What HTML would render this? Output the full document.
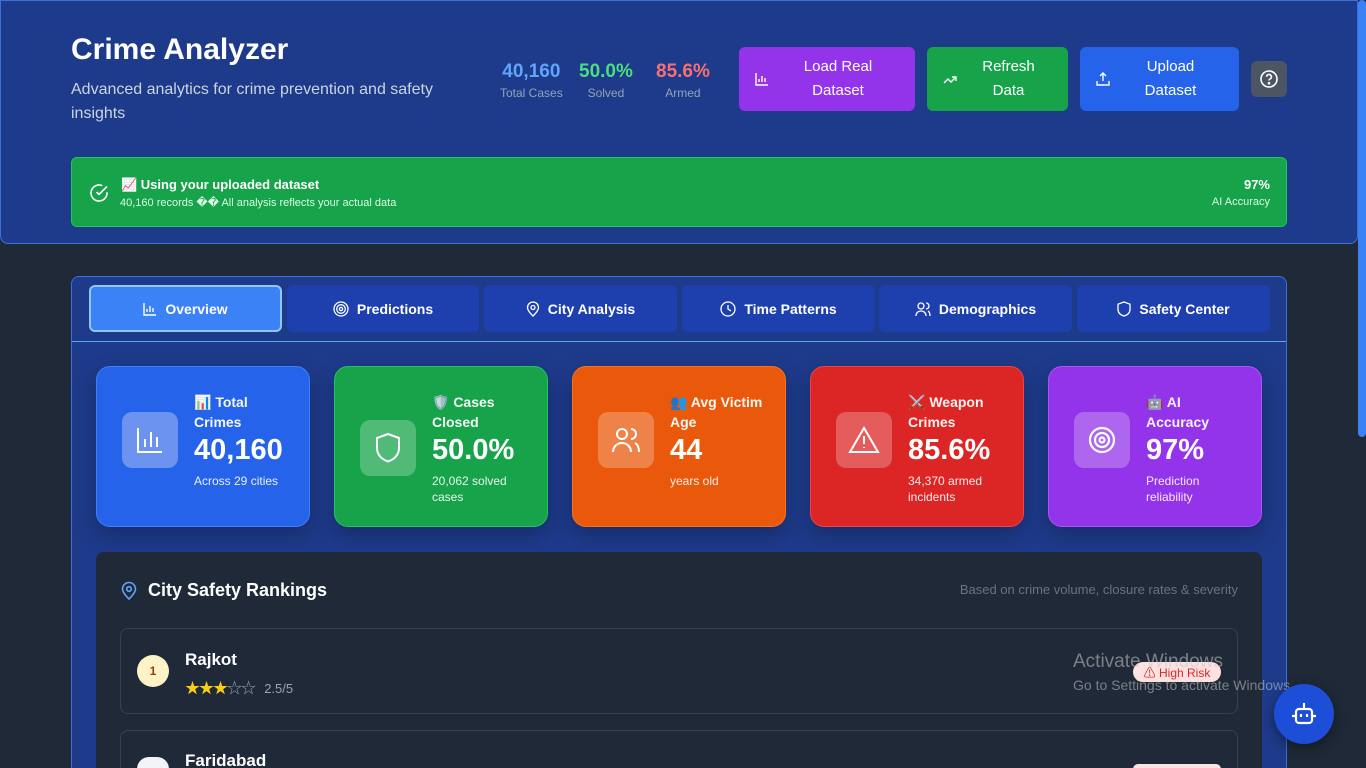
<!DOCTYPE html>
<html><head><meta charset="utf-8"><style>
*{box-sizing:border-box;margin:0;padding:0}
html{width:1366px;height:768px;overflow:hidden}
body{width:1366px;height:768px;overflow:hidden;background:#1f2937;font-family:"Liberation Sans","Noto Sans CJK SC",sans-serif;color:#fff;position:relative}
.abs{position:absolute}
.header{left:0;top:0;width:1358px;height:244px;background:#1e3a8a;border:1px solid #3b6fe0;border-radius:0 0 8px 8px}
.title{left:71px;top:33px;font-size:30px;font-weight:bold}
.sub{left:71px;top:78px;width:380px;font-size:16px;line-height:24px;color:#cbd5e1}
.stat{top:61px;text-align:center}
.stat b{display:block;font-size:19px}
.stat span{display:block;font-size:12px;color:#94a3b8;margin-top:3px}
.btn{top:47px;height:64px;border-radius:6px;font-size:15px;line-height:24px;display:flex;align-items:center;justify-content:center;text-align:center}
.btn svg{position:absolute;left:16px;top:25px}
.banner{left:71px;top:157px;width:1216px;height:70px;background:#16a34a;border:1px solid #22c55e;border-radius:6px}
.panel{left:71px;top:276px;width:1216px;height:492px;background:#1e3a8a;border:1px solid #3b6fe0;border-bottom:none;border-radius:8px 8px 0 0}
.tab{top:285px;height:47px;background:#1e40af;border-radius:6px;display:flex;align-items:center;justify-content:center;font-size:14px;font-weight:bold;gap:8px}
.tab.active{background:#3b82f6;border:2px solid #93c5fd}
.card{top:366px;width:214px;height:161px;border-radius:14px;box-shadow:0 8px 20px rgba(0,0,0,.25)}
.card .ic{position:absolute;left:25px;top:45px;width:56px;height:56px;border-radius:10px;background:rgba(255,255,255,.25);display:flex;align-items:center;justify-content:center}
.card .lab{position:absolute;left:97px;top:25px;width:100px;font-size:14px;line-height:20px;font-weight:bold;opacity:.95}
.card .val{position:absolute;left:97px;top:67px;font-size:29px;font-weight:bold}
.card .note{position:absolute;left:97px;top:106px;width:100px;font-size:12px;line-height:16px;opacity:.9}
.rank{left:96px;top:552px;width:1166px;height:216px;background:#1f2937;border-radius:8px 8px 0 0}
.row{left:120px;width:1118px;height:86px;border:1px solid #374151;border-radius:8px}
</style></head><body>
<div class="abs header"></div>
<div class="abs title">Crime Analyzer</div>
<div class="abs sub">Advanced analytics for crime prevention and safety insights</div>
<div class="abs stat" style="left:500px"><b style="color:#60a5fa">40,160</b><span>Total Cases</span></div>
<div class="abs stat" style="left:579px"><b style="color:#4ade80">50.0%</b><span>Solved</span></div>
<div class="abs stat" style="left:656px"><b style="color:#f87171">85.6%</b><span>Armed</span></div>
<div class="abs btn" style="left:739px;width:176px;background:#9333ea;padding-left:22px"><svg width="14" height="14" viewBox="0 0 14 14" fill="none" stroke="#fff" stroke-width="1.4"><path d="M1 1v12h12M4 10V7M7 10V4M10 10V6"/></svg>Load Real<br>Dataset</div>
<div class="abs btn" style="left:927px;width:141px;background:#16a34a;padding-left:22px"><svg width="14" height="14" viewBox="0 0 14 14" fill="none" stroke="#fff" stroke-width="1.4"><path d="M1 11l4-4 3 3 5-5M9 5h4v4"/></svg>Refresh<br>Data</div>
<div class="abs btn" style="left:1080px;width:159px;background:#2563eb;padding-left:22px"><svg width="14" height="14" viewBox="0 0 14 14" fill="none" stroke="#fff" stroke-width="1.4"><path d="M7 9V1M4 4l3-3 3 3M1 9v4h12V9"/></svg>Upload<br>Dataset</div>
<div class="abs" style="left:1251px;top:61px;width:36px;height:36px;border-radius:6px;background:#4b5563;display:flex;align-items:center;justify-content:center"><svg width="20" height="20" viewBox="0 0 20 20" fill="none" stroke="#fff" stroke-width="1.6"><circle cx="10" cy="10" r="8"/><path d="M7.6 7.8a2.4 2.4 0 1 1 3.2 2.3c-.6.3-.8.7-.8 1.4"/><circle cx="10" cy="14.2" r=".5" fill="#fff"/></svg></div>
<div class="abs banner">
<svg class="abs" style="left:17px;top:25px" width="20" height="20" viewBox="0 0 20 20" fill="none" stroke="#fff" stroke-width="1.6"><path d="M18 9.2V10a8 8 0 1 1-4.7-7.3"/><path d="M18 3.5 10 11.5l-2.4-2.4"/></svg>
<div class="abs" style="left:49px;top:19px;font-size:13px;font-weight:bold">📈 Using your uploaded dataset</div>
<div class="abs" style="left:48px;top:38px;font-size:11px;color:#dcfce7">40,160 records �� All analysis reflects your actual data</div>
<div class="abs" style="right:16px;top:19px;font-size:13px;font-weight:bold;text-align:right">97%</div>
<div class="abs" style="right:16px;top:38px;font-size:11px;color:#dcfce7">AI Accuracy</div>
</div>
<div class="abs panel"></div>
<div class="abs tab active" style="left:89px;width:193px"><svg width="14" height="14" viewBox="0 0 14 14" fill="none" stroke="#fff" stroke-width="1.4"><path d="M1 1v12h12M4 10V7M7 10V4M10 10V6"/></svg>Overview</div>
<div class="abs tab" style="left:287px;width:192px"><svg width="16" height="16" viewBox="0 0 16 16" fill="none" stroke="#fff" stroke-width="1.3"><circle cx="8" cy="8" r="7"/><circle cx="8" cy="8" r="4.3"/><circle cx="8" cy="8" r="1.6"/></svg>Predictions</div>
<div class="abs tab" style="left:484px;width:193px"><svg width="14" height="16" viewBox="0 0 14 16" fill="none" stroke="#fff" stroke-width="1.3"><path d="M7 15s5.5-5 5.5-8.5a5.5 5.5 0 0 0-11 0C1.5 10 7 15 7 15z"/><circle cx="7" cy="6.5" r="2"/></svg>City Analysis</div>
<div class="abs tab" style="left:682px;width:193px"><svg width="16" height="16" viewBox="0 0 16 16" fill="none" stroke="#fff" stroke-width="1.3"><circle cx="8" cy="8" r="7"/><path d="M8 4v4l3 2"/></svg>Time Patterns</div>
<div class="abs tab" style="left:879px;width:193px"><svg width="16" height="16" viewBox="0 0 16 16" fill="none" stroke="#fff" stroke-width="1.3"><circle cx="6" cy="5" r="3"/><path d="M1 15c0-3 2-5 5-5s5 2 5 5M11 2a3 3 0 0 1 0 6M13 10c1.5.8 2 2.5 2 5"/></svg>Demographics</div>
<div class="abs tab" style="left:1077px;width:193px"><svg width="14" height="16" viewBox="0 0 14 16" fill="none" stroke="#fff" stroke-width="1.3"><path d="M7 1l6 2.2v5c0 3.5-2.6 5.8-6 6.8-3.4-1-6-3.3-6-6.8v-5z"/></svg>Safety Center</div>
<div class="abs" style="left:72px;top:341px;width:1214px;height:1px;background:#60a5fa"></div>

<div class="abs card" style="left:96px;background:#2563eb;border:1px solid #3b82f6"><div class="ic" style="background:#6b93ef"><svg width="30" height="30" viewBox="0 0 30 30" fill="none" stroke="#fff" stroke-width="2"><path d="M3 3v24h24M10 22v-8M16 22V7M22 22V12"/></svg></div><div class="lab">📊 Total Crimes</div><div class="val">40,160</div><div class="note">Across 29 cities</div></div>
<div class="abs card" style="left:334px;background:#16a34a;border:1px solid #22c55e"><div class="ic" style="top:53px"><svg width="28" height="32" viewBox="0 0 28 32" fill="none" stroke="#fff" stroke-width="2"><path d="M14 2l11 4v10c0 7-5 11.5-11 13.5C8 27.5 3 23 3 16V6z"/></svg></div><div class="lab">🛡️ Cases Closed</div><div class="val">50.0%</div><div class="note">20,062 solved cases</div></div>
<div class="abs card" style="left:572px;background:#ea580c;border:1px solid #f97316"><div class="ic"><svg width="30" height="30" viewBox="0 0 30 30" fill="none" stroke="#fff" stroke-width="2"><circle cx="11" cy="9" r="5"/><path d="M2 27c0-5 4-9 9-9s9 4 9 9M20 4a5 5 0 0 1 0 10M24 18c3 1.5 4 5 4 9"/></svg></div><div class="lab">👥 Avg Victim Age</div><div class="val">44</div><div class="note">years old</div></div>
<div class="abs card" style="left:810px;background:#dc2626;border:1px solid #ef4444"><div class="ic"><svg width="32" height="30" viewBox="0 0 32 30" fill="none" stroke="#fff" stroke-width="2"><path d="M16 3L2 27h28z"/><path d="M16 11v8M16 22v1"/></svg></div><div class="lab">⚔️ Weapon Crimes</div><div class="val">85.6%</div><div class="note">34,370 armed incidents</div></div>
<div class="abs card" style="left:1048px;background:#9333ea;border:1px solid #a855f7"><div class="ic"><svg width="30" height="30" viewBox="0 0 30 30" fill="none" stroke="#fff" stroke-width="2.2"><circle cx="15" cy="15" r="12"/><circle cx="15" cy="15" r="7"/><circle cx="15" cy="15" r="2.5"/></svg></div><div class="lab">🤖 AI Accuracy</div><div class="val">97%</div><div class="note">Prediction reliability</div></div>

<div class="abs rank"></div>
<svg class="abs" style="left:121px;top:581px" width="16" height="19" viewBox="0 0 16 19" fill="none" stroke="#60a5fa" stroke-width="1.6"><path d="M8 18s6.5-6 6.5-10a6.5 6.5 0 0 0-13 0C1.5 12 8 18 8 18z"/><circle cx="8" cy="8" r="2.3"/></svg>
<div class="abs" style="left:148px;top:580px;font-size:18px;font-weight:bold">City Safety Rankings</div>
<div class="abs" style="right:128px;top:582px;font-size:13px;color:#6b7280">Based on crime volume, closure rates &amp; severity</div>
<div class="abs row" style="top:628px">
<div class="abs" style="left:16px;top:26px;width:32px;height:32px;border-radius:50%;background:#fef3c7;color:#92400e;font-size:12px;font-weight:bold;display:flex;align-items:center;justify-content:center">1</div>
<div class="abs" style="left:64px;top:21px;font-size:17px;font-weight:bold">Rajkot</div>
<div class="abs" style="left:64px;top:48px;font-size:15px;letter-spacing:-1px"><span style="color:#facc15">★★★</span><span style="color:#9ca3af">☆☆</span> <span style="font-size:13px;color:#9ca3af;letter-spacing:0;margin-left:6px">2.5/5</span></div>
<div class="abs" style="left:1012px;top:33px;width:88px;height:20px;border-radius:10px;background:#fee2e2;color:#dc2626;font-size:12px;display:flex;align-items:center;justify-content:center">⚠ High Risk</div>
</div>
<div class="abs row" style="top:730px;height:38px;border-bottom:none;border-radius:8px 8px 0 0">
<div class="abs" style="left:16px;top:26px;width:32px;height:12px;border-radius:16px 16px 0 0;background:#f3f4f6"></div>
<div class="abs" style="left:64px;top:21px;font-size:17px;font-weight:bold;line-height:17px;height:16px;overflow:hidden">Faridabad</div>
<div class="abs" style="left:1012px;top:33px;width:88px;height:5px;border-radius:10px 10px 0 0;background:#fee2e2"></div>
</div>
<div class="abs" style="left:1073px;top:651px;font-size:19px;color:rgba(200,200,200,.55)">Activate Windows</div>
<div class="abs" style="left:1073px;top:677px;font-size:14px;color:rgba(200,200,200,.55)">Go to Settings to activate Windows.</div>
<div class="abs" style="left:1274px;top:684px;width:60px;height:60px;border-radius:50%;background:#1d4ed8;display:flex;align-items:center;justify-content:center;box-shadow:0 4px 12px rgba(0,0,0,.4)"><svg width="28" height="26" viewBox="0 0 28 26" fill="none" stroke="#fff" stroke-width="2.2"><path d="M14 2v5"/><rect x="6" y="8" width="16" height="14" rx="3"/><path d="M2 15h4M22 15h4M11 13v3M17 13v3"/></svg></div>
<div class="abs" style="left:1358px;top:0;width:8px;height:768px;background:#1f2937"></div>
<div class="abs" style="left:1358px;top:0;width:8px;height:437px;background:#3b82f6;border-radius:4px"></div>
</body></html>
